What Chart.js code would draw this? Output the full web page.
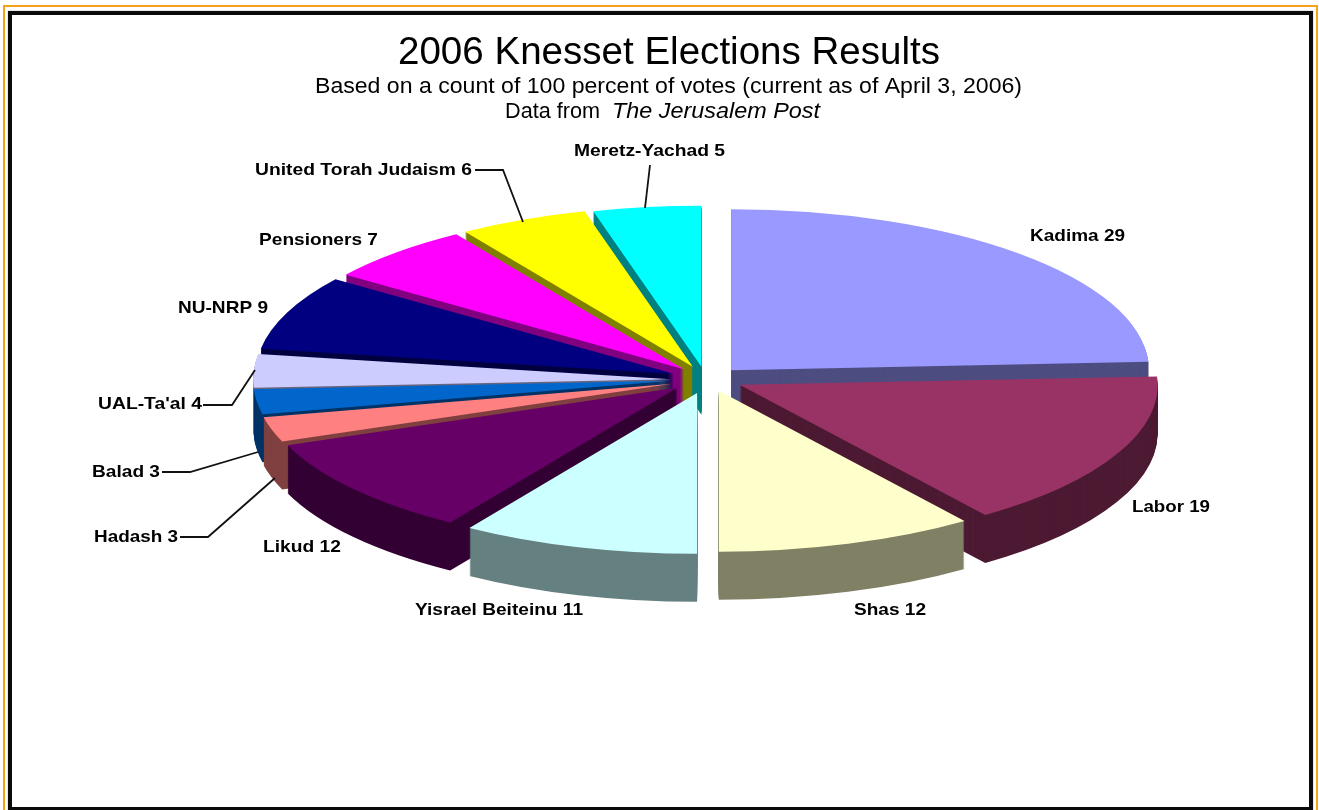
<!DOCTYPE html>
<html><head><meta charset="utf-8">
<style>
html,body{margin:0;padding:0;width:1319px;height:810px;overflow:hidden;background:#fff}
#orange{position:absolute;left:3px;top:5px;width:1311px;height:820px;border:2px solid #f7a11a}
#black{position:absolute;left:8px;top:11px;width:1297px;height:792px;border:4px solid #0a0a0a;box-shadow:0 0 1px #777}
#wrap{position:absolute;left:0;top:0;width:1319px;height:810px;filter:blur(0.4px)}
</style>
<script src="https://cdn.jsdelivr.net/npm/chart.js@4/dist/chart.umd.min.js"></script>
</head><body>
<div id="orange"></div><div id="black"></div>
<div id="wrap"><canvas id="c" width="1319" height="810"></canvas></div>
<script>
const parties = ["Kadima","Labor","Shas","Yisrael Beiteinu","Likud","Hadash","Balad","UAL-Ta'al","NU-NRP","Pensioners","United Torah Judaism","Meretz-Yachad"];
const seats = [29,19,12,11,12,3,3,4,9,7,6,5];
const topColors = ["#9999ff","#993366","#ffffcc","#ccffff","#660066","#ff8080","#0066cc","#ccccff","#000080","#ff00ff","#ffff00","#00ffff"];
const sideColors = ["#4d4d80","#4d1a33","#808066","#668080","#330033","#804040","#003366","#666680","#000040","#800080","#808000","#008080"];
const titleText = "2006 Knesset Elections Results";
const subtitleText = "Based on a count of 100 percent of votes (current as of April 3, 2006)";
const sourcePrefix = "Data from ";
const sourceName = "The Jerusalem Post";

const pieRadius = 418, squash = 0.385, depth = 48, explode = 35;
// fine placement of each exploded slice
const nudgeX = [2,3,3,2,0,1,1,1,1,3,2,1];
const nudgeY = [-2,-3,-4,-2,-3,-2,-3,-2,-3,-3,-3,-2];
// label anchor: left x, middle y
const labelX = [1030,1132,854,415,263,94,92,98,178,259,255,574];
const labelY = [236,507,610,610,547,537,472,404,308,240,170,151];
const labelW = [95,78,72,168,78,84,68,104,90,119,217,151];
const leaders = [
  [[475,170],[503,170],[523,222]],
  [[650,165],[645,208]],
  [[203,405],[232,405],[255,370]],
  [[162,472],[190,472],[258,452]],
  [[180,537],[208,537],[275,478]]
];

function fitText(ctx, s, x, y, w){
  ctx.save();
  const m = ctx.measureText(s).width;
  ctx.translate(x, y); ctx.scale(w/m, 1);
  ctx.textAlign = 'left'; ctx.fillText(s, 0, 0);
  ctx.restore();
}

const pie3d = {
  id:'pie3d',
  beforeDatasetDraw(chart){
    const ctx = chart.ctx, arcs = chart.getDatasetMeta(0).data;
    const mid = a => (a.startAngle + a.endAngle)/2;
    const order = arcs.map((a,i)=>i).sort((p,q)=>Math.sin(mid(arcs[p]))-Math.sin(mid(arcs[q])));
    const paint = (a, i, color, dy) => {
      const m = mid(a), saved = a.options;
      ctx.save();
      ctx.translate(a.x + nudgeX[i], a.y + nudgeY[i] + dy);
      ctx.scale(1, squash);
      ctx.translate(-a.x, -a.y);
      ctx.translate(Math.cos(m)*explode, Math.sin(m)*explode);
      a.options = Object.assign({}, saved, {backgroundColor:color, borderWidth:0, offset:0});
      a.draw(ctx);
      a.options = saved;
      ctx.restore();
    };
    order.forEach(i=>{
      for(let d=depth;d>=1;d--) paint(arcs[i], i, sideColors[i], d);
      paint(arcs[i], i, topColors[i], 0);
    });
    return false;
  },
  afterDraw(chart){
    const ctx = chart.ctx;
    ctx.save();
    ctx.fillStyle='#000'; ctx.textBaseline='middle'; ctx.textAlign='left';
    ctx.font='38px "Liberation Sans"'; fitText(ctx,titleText,398,54,542);
    ctx.font='21.5px "Liberation Sans"'; fitText(ctx,subtitleText,315,87,707);
    ctx.font='21.5px "Liberation Sans"'; fitText(ctx,sourcePrefix,505,112,101);
    ctx.font='italic 21.5px "Liberation Sans"'; fitText(ctx,sourceName,612,112,208);
    ctx.font='bold 17px "Liberation Sans"';
    parties.forEach((p,i)=>fitText(ctx,p+' '+seats[i],labelX[i],labelY[i],labelW[i]));
    ctx.strokeStyle='#111'; ctx.lineWidth=1.8;
    leaders.forEach(l=>{ctx.beginPath();l.forEach((pt,j)=>j?ctx.lineTo(pt[0],pt[1]):ctx.moveTo(pt[0],pt[1]));ctx.stroke();});
    ctx.restore();
  }
};

new Chart(document.getElementById('c'),{
  type:'pie',
  data:{labels:parties,datasets:[{data:seats,backgroundColor:topColors,borderWidth:0,radius:pieRadius,clip:false}]},
  options:{
    responsive:false,animation:false,
    layout:{padding:{left:91,right:0,top:0,bottom:46}},
    plugins:{legend:{display:false},tooltip:{enabled:false},title:{display:false}}
  },
  plugins:[pie3d]
});
</script>
</body></html>
